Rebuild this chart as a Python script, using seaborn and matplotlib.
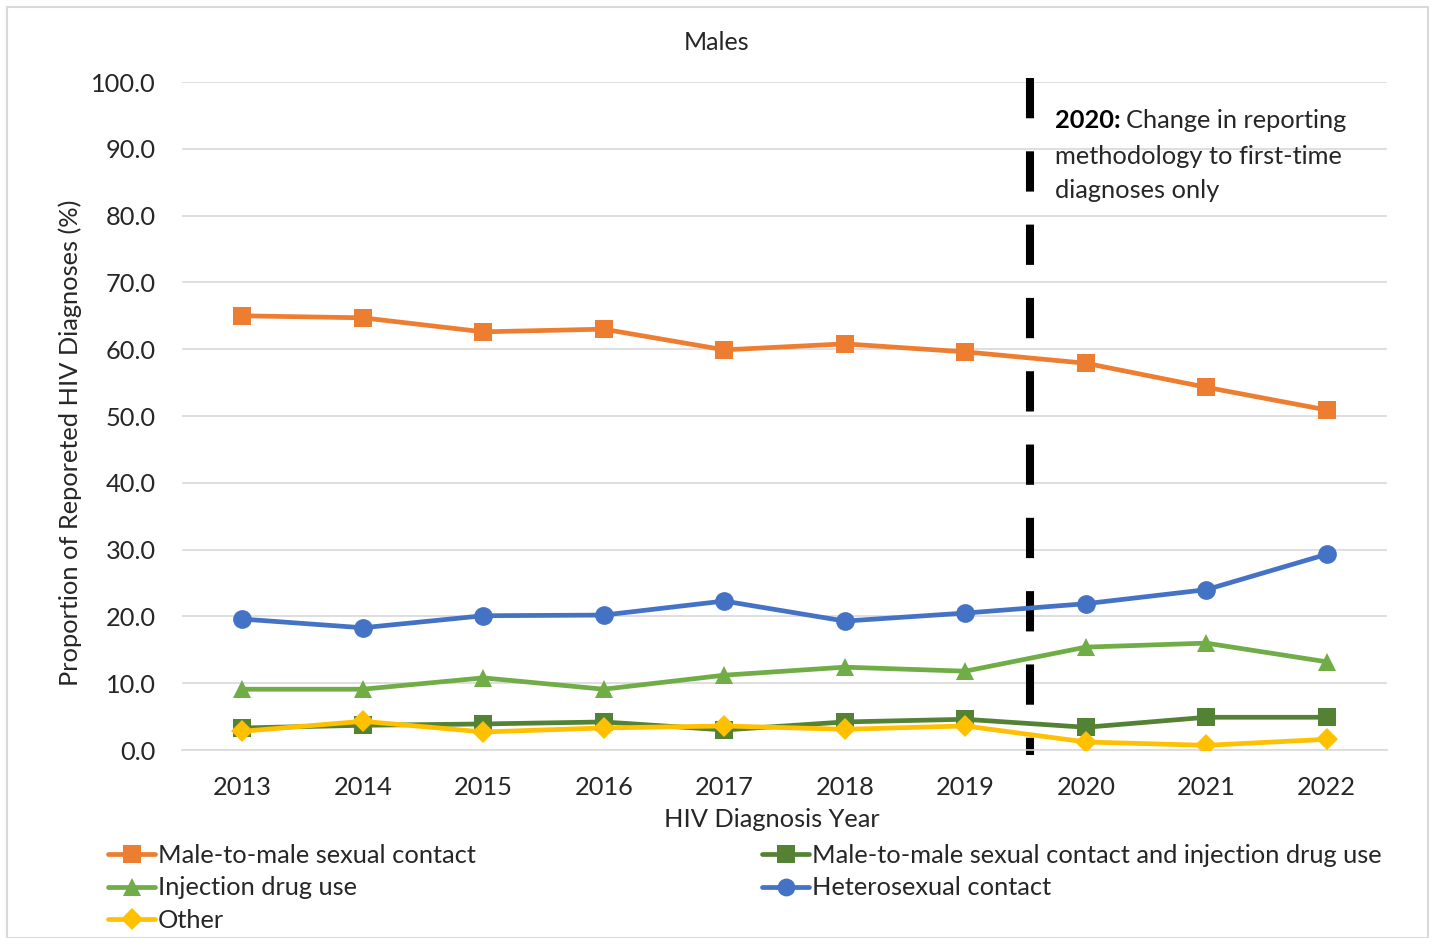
import matplotlib
matplotlib.use("Agg")
import pandas as pd
import seaborn as sns
import matplotlib.pyplot as plt
from matplotlib.lines import Line2D
from matplotlib.patches import Rectangle

# Values (% of reported HIV diagnoses, males)
years = [2013, 2014, 2015, 2016, 2017, 2018, 2019, 2020, 2021, 2022]
msm = [65.0, 64.7, 62.6, 63.0, 59.9, 60.8, 59.6, 57.9, 54.3, 50.9]
msm_idu = [3.3, 3.7, 3.9, 4.2, 3.0, 4.2, 4.6, 3.4, 4.9, 4.9]
idu = [9.1, 9.1, 10.8, 9.1, 11.2, 12.4, 11.8, 15.4, 16.0, 13.2]
hetero = [19.6, 18.3, 20.1, 20.2, 22.3, 19.3, 20.5, 21.9, 24.0, 29.3]
other = [2.8, 4.3, 2.7, 3.3, 3.6, 3.1, 3.6, 1.2, 0.7, 1.6]

groups = ["Male-to-male sexual contact",
          "Male-to-male sexual contact and injection drug use",
          "Injection drug use",
          "Heterosexual contact",
          "Other"]
colors = ["#ED7D31", "#548235", "#70AD47", "#4472C4", "#FFC000"]
markers = ["s", "s", "^", "o", "D"]
msizes = [13.5, 13.5, 13.5, 13.5, 11.5]

rows = []
for g, vals in zip(groups, [msm, msm_idu, idu, hetero, other]):
    for yr, v in zip(years, vals):
        rows.append({"Year": yr, "Percent": v, "Group": g})
df = pd.DataFrame(rows)

sns.set_theme(style="white")
plt.rcParams["font.family"] = ["Lato", "DejaVu Sans"]

W, H = 1433, 938
FS = 18.3
TXT = "#262626"

fig = plt.figure(figsize=(W / 100, H / 100), dpi=100)
ax = fig.add_axes([182 / W, 1 - 750 / H, 1205 / W, 668 / H])

for g, c, m, ms in zip(groups, colors, markers, msizes):
    sns.lineplot(data=df[df["Group"] == g], x="Year", y="Percent", color=c,
                 marker=m, markersize=ms, markeredgewidth=0, linewidth=3.4,
                 ax=ax, legend=False, zorder=3)

# reporting change marker (drawn top-down so the dash pattern starts at top)
ax.plot([2019.54, 2019.54], [100.6, -0.7], color="black", linewidth=5.8,
        dashes=(5.0, 4.1), zorder=2, clip_on=False, solid_capstyle="butt",
        dash_capstyle="butt")

ax.set_xlim(2012.5, 2022.5)
ax.set_ylim(0, 100)
ax.set_xticks(years)
ax.set_yticks(range(0, 101, 10))
ax.set_yticklabels([f"{v:.1f}" for v in range(0, 101, 10)])
ax.tick_params(axis="both", labelsize=FS, colors=TXT, length=0)
ax.tick_params(axis="y", pad=19)
ax.tick_params(axis="x", pad=19)
ax.yaxis.grid(True, color="#D9D9D9", linewidth=1.2)
ax.set_axisbelow(True)
for s in ax.spines.values():
    s.set_visible(False)
ax.spines["bottom"].set_visible(True)
ax.spines["bottom"].set_color("#D9D9D9")
ax.spines["bottom"].set_linewidth(1.2)

ax.set_xlabel("")
ax.set_ylabel("")
fig.text(772 / W, 1 - 819 / H, "HIV Diagnosis Year", fontsize=FS, color=TXT,
         ha="center", va="center")
fig.text(70 / W, 1 - 443 / H, "Proportion of Reporeted HIV Diagnoses (%)",
         fontsize=FS, color=TXT, rotation=90, ha="center", va="center")
fig.text(717 / W, 1 - 42 / H, "Males", fontsize=18, color=TXT,
         ha="center", va="center")

# annotation: bold year then normal text
fig.canvas.draw()
renderer = fig.canvas.get_renderer()
t1 = fig.text(1055 / W, 1 - 121 / H, "2020:", fontsize=FS,
              fontweight="bold", va="center", ha="left", color="black")
bb = t1.get_window_extent(renderer=renderer)
fig.text((bb.x1 + 5) / W, 1 - 121 / H, "Change in reporting",
         fontsize=FS, va="center", ha="left", color=TXT)
fig.text(1055 / W, 1 - 156 / H, "methodology to first-time",
         fontsize=FS, va="center", ha="left", color=TXT)
fig.text(1055 / W, 1 - 190 / H, "diagnoses only",
         fontsize=FS, va="center", ha="left", color=TXT)

# legend in two blocks, like the original layout
handles = [Line2D([0], [0], color=c, marker=m, markersize=ms * 0.95,
                  markeredgewidth=0, linewidth=3.4)
           for c, m, ms in zip(colors, markers, msizes)]
leg_kw = dict(frameon=False, fontsize=FS, handlelength=1.85,
              handletextpad=0.12, borderpad=0, borderaxespad=0,
              labelspacing=0.37, loc="upper left")
leg1 = fig.legend([handles[0], handles[2], handles[4]],
                  [groups[0], groups[2], groups[4]],
                  bbox_to_anchor=(108 / W, 1 - 844 / H), **leg_kw)
leg2 = fig.legend([handles[1], handles[3]], [groups[1], groups[3]],
                  bbox_to_anchor=(762 / W, 1 - 844 / H), **leg_kw)
for leg in (leg1, leg2):
    for t in leg.get_texts():
        t.set_color(TXT)

# light frame around the chart area
fig.patches.append(Rectangle((7 / W, 0), 1421 / W, 1 - 7 / H,
                             transform=fig.transFigure, fill=False,
                             edgecolor="#D9D9D9", linewidth=1.5))

fig.savefig("out.png", dpi=100)
